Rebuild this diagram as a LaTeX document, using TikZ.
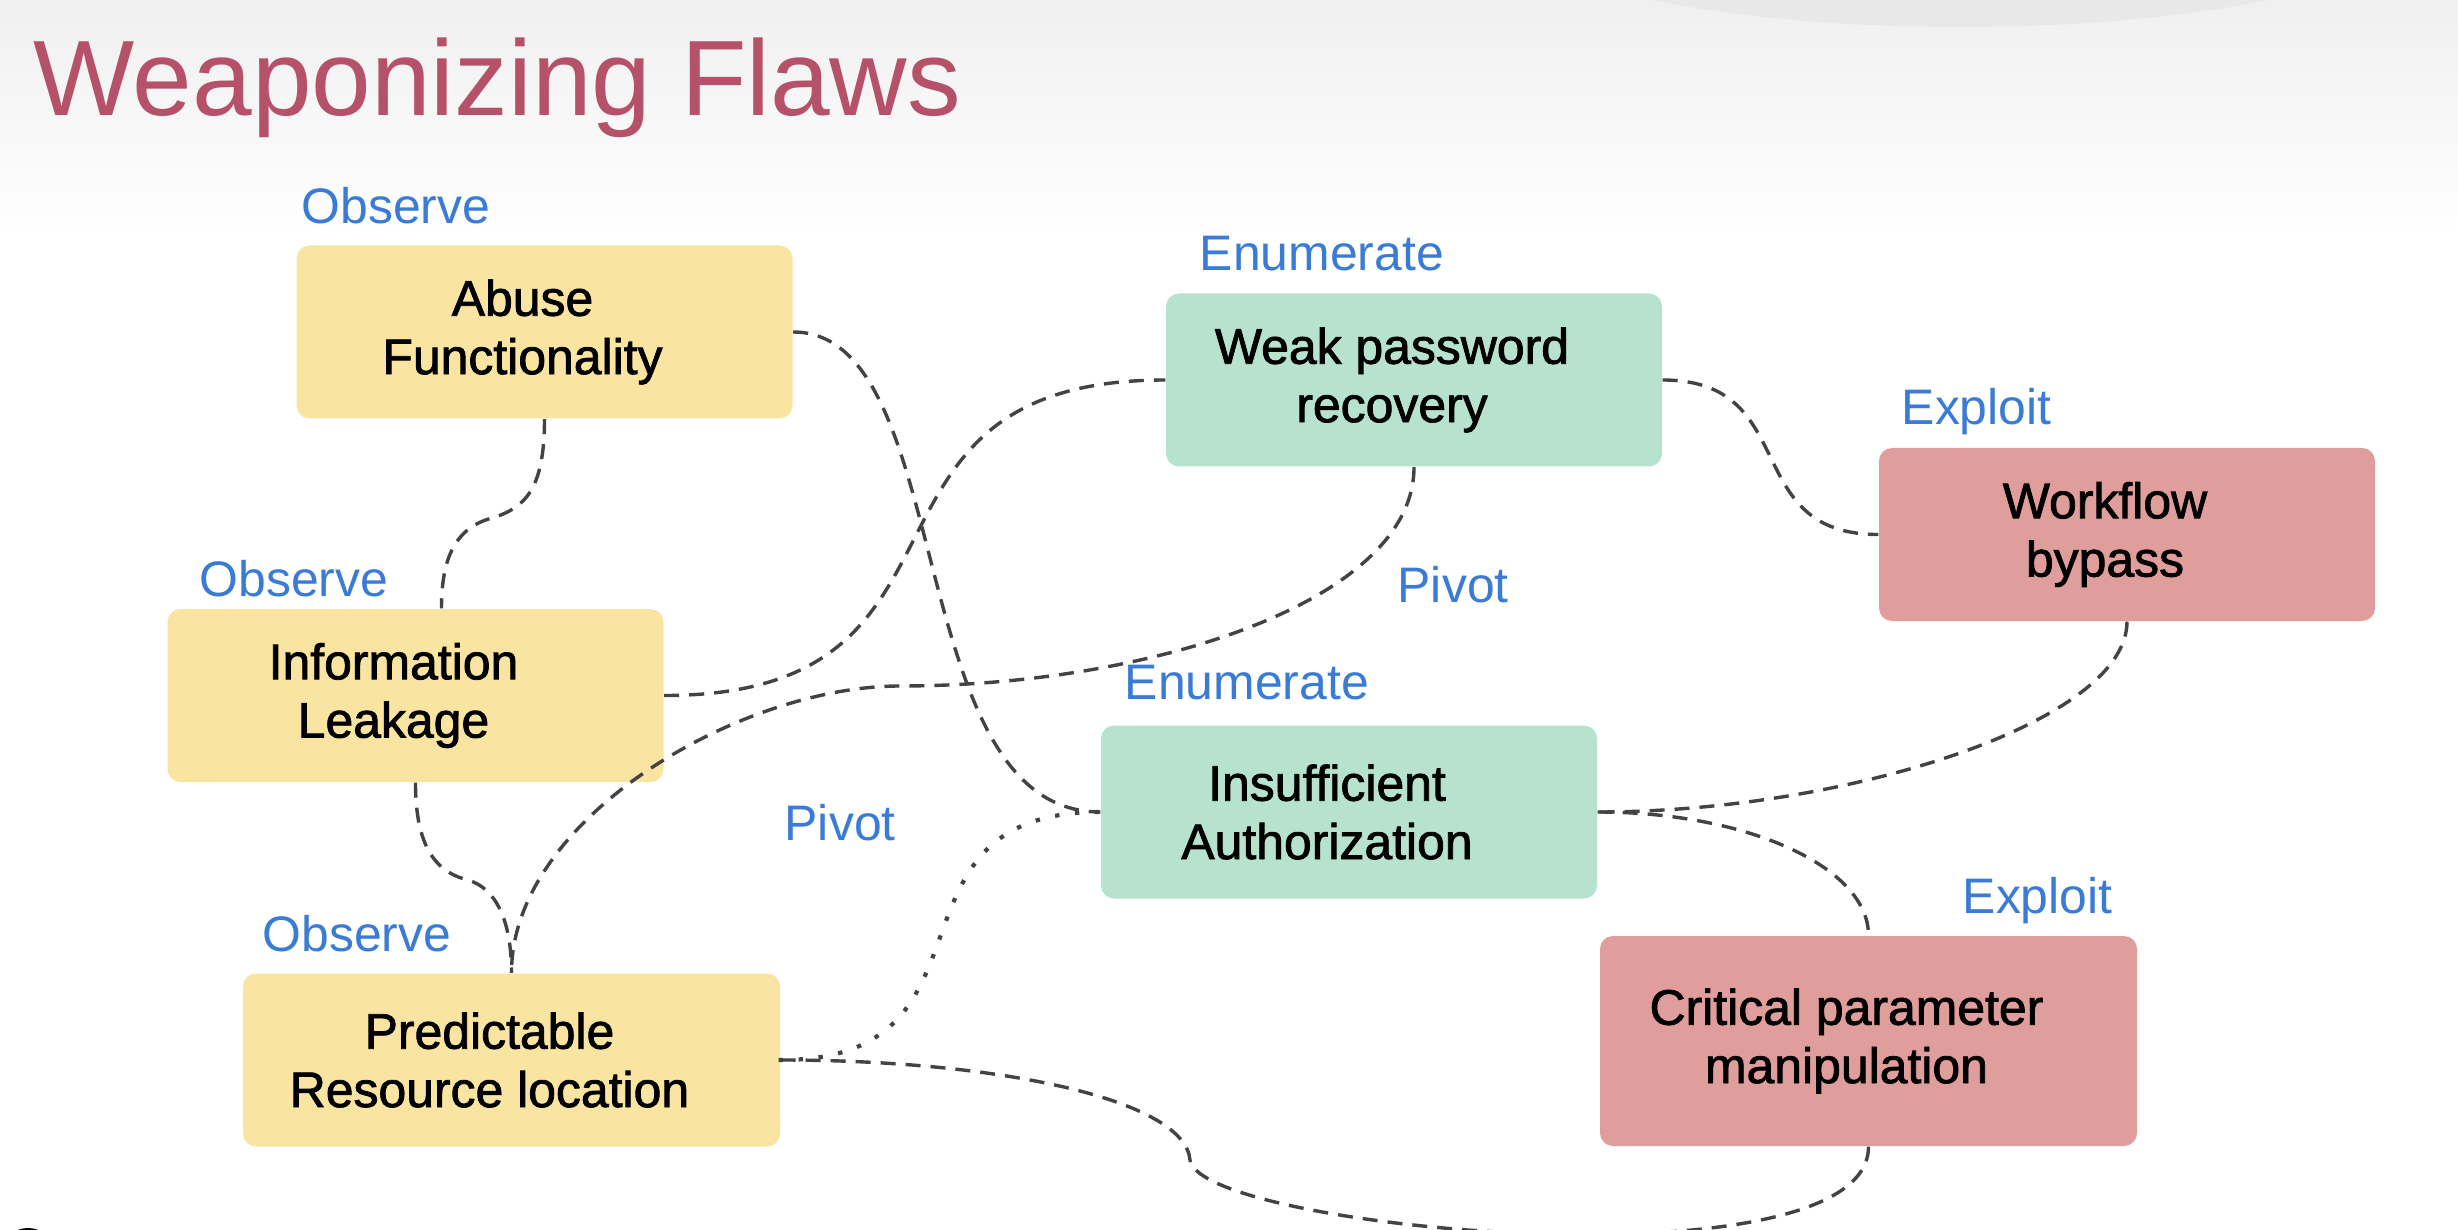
\documentclass[tikz,border=0pt]{standalone}
\usepackage{fontspec}
\setmainfont{Liberation Sans}
\newfontfamily\scatola{Liberation Sans}[FakeBold=1.6]
\usepackage{xcolor}
\definecolor{osserva}{HTML}{F9E5A1}
\definecolor{enumera}{HTML}{B7E2CD}
\definecolor{sfrutta}{HTML}{DF9D9B}
\definecolor{fasecol}{HTML}{3A7BD5}
\definecolor{titolocol}{HTML}{B5526A}
\definecolor{lineacol}{HTML}{434343}
\tikzset{
  riquadro/.style={rounded corners=1.3mm, minimum width=4.96cm, minimum height=1.73cm, inner sep=0pt},
  testo/.style={align=center, inner sep=0pt, font=\scatola\fontsize{14.2}{16.6}\selectfont},
  fase/.style={anchor=base west, inner sep=0pt, text=fasecol, font=\fontsize{14.2}{17}\selectfont},
  legame/.style={draw=lineacol, line width=0.34mm, dash pattern=on 1.5mm off 1mm},
  puntini/.style={draw=lineacol, line width=0.42mm, dash pattern=on 0.02mm off 1.98mm, line cap=rect}
}

\begin{document}
\begin{tikzpicture}
    % Parametri
    \pgfmathsetmacro{\larg}{24.58}
    \pgfmathsetmacro{\alt}{12.30}
    \pgfmathsetmacro{\sposta}{-0.22}
    % Sfondo
    \useasboundingbox (0,0) rectangle (\larg,-\alt);
    \fill[white] (0,0) rectangle (\larg,-\alt);
    \shade[top color=black!6, bottom color=white] (0,0) rectangle (\larg,-2.4);
    \fill[black!9] (19.6,0.73) ellipse [x radius=4.5, y radius=1.0];
    \fill[black] (0.28,-12.46) ellipse [x radius=0.22, y radius=0.18];
    % Titolo
    \node[anchor=base west, inner sep=0pt, text=titolocol, font=\fontsize{30.5}{36}\selectfont] (titolo) at (0.33,-1.16) {Weaponizing Flaws};
    % Riquadri
    \node[riquadro, fill=osserva] (abuse) at (5.445,-3.32) {};
    \node[riquadro, fill=osserva] (leak) at (4.155,-6.955) {};
    \node[riquadro, fill=osserva, minimum width=5.37cm] (pred) at (5.115,-10.60) {};
    \node[riquadro, fill=enumera] (weak) at (14.14,-3.80) {};
    \node[riquadro, fill=enumera] (insuff) at (13.49,-8.12) {};
    \node[riquadro, fill=sfrutta] (flow) at (21.27,-5.345) {};
    \node[riquadro, fill=sfrutta, minimum width=5.37cm, minimum height=2.10cm] (crit) at (18.685,-10.41) {};
    % Testi
    \node[testo] (abuse-t) at ([xshift=\sposta cm]abuse) {Abuse\\Functionality};
    \node[testo] (leak-t) at ([xshift=\sposta cm]leak) {Information\\Leakage};
    \node[testo] (pred-t) at ([xshift=\sposta cm]pred) {Predictable\\Resource location};
    \node[testo] (weak-t) at ([xshift=\sposta cm]weak) {Weak password\\recovery};
    \node[testo] (insuff-t) at ([xshift=\sposta cm]insuff) {Insufficient\\Authorization};
    \node[testo] (flow-t) at ([xshift=\sposta cm]flow) {Workflow\\bypass};
    \node[testo] (crit-t) at ([xshift=\sposta cm]crit) {Critical parameter\\manipulation};
    % Fasi
    \node[fase] (oss1) at (3.01,-2.24) {Observe};
    \node[fase] (oss2) at (1.99,-5.96) {Observe};
    \node[fase] (oss3) at (2.62,-9.51) {Observe};
    \node[fase] (enu1) at (11.99,-2.71) {Enumerate};
    \node[fase] (enu2) at (11.24,-6.99) {Enumerate};
    \node[fase] (piv1) at (13.97,-6.02) {Pivot};
    \node[fase] (piv2) at (7.84,-8.40) {Pivot};
    \node[fase] (exp1) at (19.01,-4.25) {Exploit};
    \node[fase] (exp2) at (19.62,-9.13) {Exploit};
    % Collegamenti
    \coordinate (k1) at (4.92,-5.18);
    \coordinate (k2) at (4.68,-8.80);
    \coordinate (k3) at (9.00,-6.86);
    \coordinate (k4) at (11.90,-11.60);
    \draw[legame] (abuse.east) .. controls +(1.65,0) and +(-2.0,0) .. (insuff.west);
    \draw[legame] (abuse.south) .. controls +(0,-0.7) and +(0.33,0.1) .. (k1) .. controls +(-0.37,-0.1) and +(0,0.5) .. ([xshift=2.6mm]leak.north);
    \draw[legame] (leak.south) .. controls +(0,-0.63) and +(-0.33,0.08) .. (k2) .. controls +(0.27,-0.08) and +(0,0.54) .. (pred.north);
    \draw[legame] (leak.east) .. controls +(3.4,0) and +(-3.4,0) .. (weak.west);
    \draw[legame] (weak.south) .. controls +(0,-1.34) and +(2.5,0) .. (k3) .. controls +(-1.6,0) and +(0,1.54) .. (pred.north);
    \draw[legame] (weak.east) .. controls +(1.4,0) and +(-1.4,0) .. (flow.west);
    \draw[legame] (flow.south) .. controls +(0,-1.0) and +(2.5,0) .. (insuff.east);
    \draw[legame] (insuff.east) .. controls +(1.5,0) and +(0,0.68) .. (crit.north);
    \draw[puntini] (pred.east) .. controls +(2.3,0) and +(-2.3,0) .. (insuff.west);
    \draw[legame] (pred.east) .. controls +(2.2,0) and +(-0.05,0.6) .. (k4) .. controls +(0.1,-0.7) and +(0,-1.44) .. (crit.south);
\end{tikzpicture}
\end{document}
